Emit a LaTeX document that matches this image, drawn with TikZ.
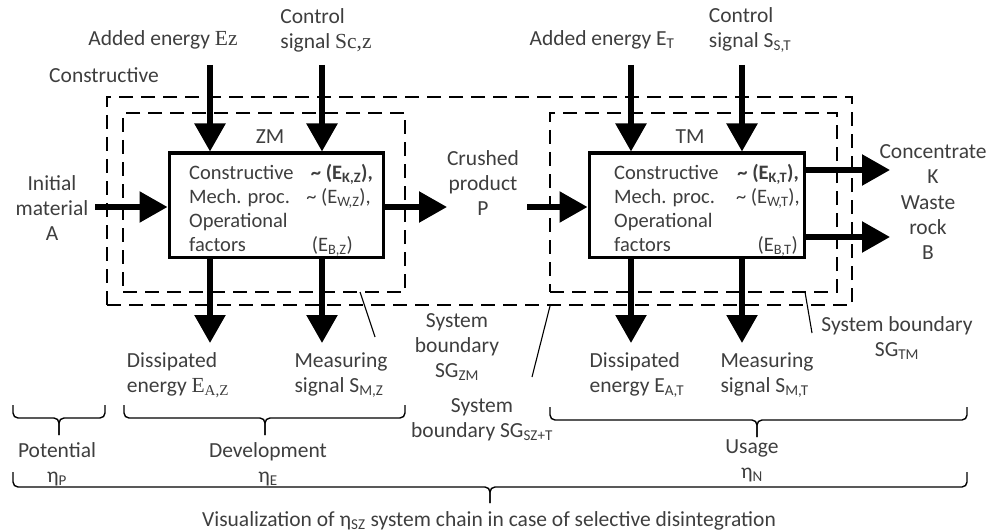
\documentclass[tikz,border=0pt]{standalone}
\usepackage{fontspec}
\setmainfont{Carlito}
\newfontfamily\serifE{Liberation Serif}
\usetikzlibrary{arrows.meta}
\definecolor{txt}{RGB}{62,62,62}
\newcommand\sbs[1]{\textsubscript{#1}}
\begin{document}
\begin{tikzpicture}[x=1pt,y=-1pt,
  lbl/.style={font=\fontsize{21.5}{25}\selectfont, text=txt, inner sep=0pt, align=center},
  boxtxt/.style={lbl, font=\fontsize{20.5}{24}\selectfont},
  bigarrow/.style={line width=5.5pt, -{Triangle[width=30pt,length=28pt]}},
  solidbox/.style={draw, line width=3pt, minimum width=214pt, minimum height=104pt, inner sep=0pt},
  dbox/.style={draw, line width=2.6pt, dash pattern=on 14pt off 8pt, inner sep=0pt},
  ptr/.style={line width=1.1pt},
  brc/.style={line width=1.4pt, rounded corners=5pt}]
\useasboundingbox (0,0) rectangle (993,532);

% system boundaries
\node[dbox, minimum width=745pt, minimum height=208pt] (sgall) at (479.5,201) {};
\node[dbox, minimum width=282pt, minimum height=179pt] (zmd) at (264,202.5) {};
\node[dbox, minimum width=287pt, minimum height=179pt] (tmd) at (693.5,202.5) {};

% machine boxes
\node[solidbox, fill=white] (zm) at (276,205) {};
\node[solidbox, fill=white, minimum width=215pt] (tm) at (696.5,205) {};

% box texts ZM
\node[boxtxt, anchor=base west] (zm1) at (189,179) {Constructive};
\node[boxtxt, anchor=base west] (zm2) at (189,203) {Mech. proc.};
\node[boxtxt, anchor=base west] (zm3) at (189,227) {Operational};
\node[boxtxt, anchor=base west] (zm4) at (189,251) {factors};
\node[boxtxt, anchor=base east] (zmr1) at (373,179) {\textbf{\textasciitilde\ (E\sbs{K,Z}),}};
\node[boxtxt, anchor=base east] (zmr2) at (371,203) {\textasciitilde\ (E\sbs{W,Z}),};
\node[boxtxt, anchor=base east] (zmr4) at (353,251) {(E\sbs{B,Z})};
% box texts TM
\node[boxtxt, anchor=base west] (tm1) at (614,179) {Constructive};
\node[boxtxt, anchor=base west] (tm2) at (614,203) {Mech. proc.};
\node[boxtxt, anchor=base west] (tm3) at (614,227) {Operational};
\node[boxtxt, anchor=base west] (tm4) at (614,251) {factors};
\node[boxtxt, anchor=base east] (tmr1) at (799,179) {\textbf{\textasciitilde\ (E\sbs{K,T}),}};
\node[boxtxt, anchor=base east] (tmr2) at (800,203) {\textasciitilde\ (E\sbs{W,T}),};
\node[boxtxt, anchor=base east] (tmr4) at (798,251) {(E\sbs{B,T})};

\node[lbl] (zml) at (270,137) {ZM};
\node[lbl] (tml) at (690,137) {TM};

% outer labels
\node[lbl] (addz) at (163,40) {Added energy {\serifE Ez}};
\node[lbl, align=left] (ctrlz) at (326,30) {Control\\signal {\serifE Sc,z}};
\node[lbl] (constr) at (104,75) {Constructive};
\node[lbl] (addt) at (602,40) {Added energy E\sbs{T}};
\node[lbl, align=left] (ctrlt) at (750,30) {Control\\signal S\sbs{S,T}};
\node[lbl] (inA) at (52,208) {Initial\\material\\A};
\node[lbl] (prP) at (483,183) {Crushed\\product\\P};
\node[lbl] (conK) at (933,164) {Concentrate\\K};
\node[lbl] (wasB) at (928,228) {Waste\\rock\\B};
\node[lbl, align=left] (dissz) at (178,375) {Dissipated\\energy {\serifE E\sbs{A,Z}}};
\node[lbl, align=left] (measz) at (341,375) {Measuring\\signal S\sbs{M,Z}};
\node[lbl] (sgzm) at (457,347) {System\\boundary\\SG\sbs{ZM}};
\node[lbl] (sgszt) at (482,420) {System\\boundary SG\sbs{SZ+T}};
\node[lbl, align=left] (disst) at (637,375) {Dissipated\\energy E\sbs{A,T}};
\node[lbl, align=left] (meast) at (767,375) {Measuring\\signal S\sbs{M,T}};
\node[lbl] (sgtm) at (897,338) {System boundary\\SG\sbs{TM}};
\node[lbl] (pot) at (57,464) {Potential\\η\sbs{P}};
\node[lbl] (dev) at (268,464) {Development\\η\sbs{E}};
\node[lbl] (use) at (752,461) {Usage\\η\sbs{N}};
\node[lbl] (vis) at (489,521) {Visualization of η\sbs{SZ} system chain in case of selective disintegration};

% input arrows
\coordinate (ez0) at (210,65);
\coordinate (sz0) at (322,65);
\coordinate (et0) at (631,65);
\coordinate (st0) at (742,65);
\draw[bigarrow] (ez0) -- (ez0 |- zm.north);
\draw[bigarrow] (sz0) -- (sz0 |- zm.north);
\draw[bigarrow] (et0) -- (et0 |- tm.north);
\draw[bigarrow] (st0) -- (st0 |- tm.north);
% output arrows
\coordinate (ez1) at (210,343);
\coordinate (sz1) at (322,343);
\coordinate (et1) at (631,343);
\coordinate (st1) at (742,343);
\draw[bigarrow] (ez1 |- zm.south) -- (ez1);
\draw[bigarrow] (sz1 |- zm.south) -- (sz1);
\draw[bigarrow] (et1 |- tm.south) -- (et1);
\draw[bigarrow] (st1 |- tm.south) -- (st1);
% material flow
\coordinate (a0) at (95,207);
\coordinate (p1) at (447,207);
\coordinate (p2) at (527,207);
\coordinate (k1) at (890,170);
\coordinate (b1) at (890,237);
\draw[bigarrow] (a0) -- (a0 -| zm.west);
\draw[bigarrow] (p1 -| zm.east) -- (p1);
\draw[bigarrow] (p2) -- (p2 -| tm.west);
\draw[bigarrow] (k1 -| tm.east) -- (k1);
\draw[bigarrow] (b1 -| tm.east) -- (b1);

% pointer lines
\coordinate (pz1) at (360,292);
\coordinate (pz2) at (375,337);
\coordinate (pa1) at (550,306);
\coordinate (pa2) at (532,377);
\coordinate (pt1) at (805,292);
\coordinate (pt2) at (812,333);
\draw[ptr] (pz1) -- (pz2);
\draw[ptr] (pa1) -- (pa2);
\draw[ptr] (pt1) -- (pt2);

% braces
\newcommand\mybrace[6]{%
  \draw[brc] (#1,#4) |- (#3,#5) -- (#3,#6);
  \draw[brc] (#2,#4) |- (#3,#5) -- (#3,#6);}
\mybrace{13}{105}{59}{405}{418}{435}
\mybrace{124}{405}{265}{405}{418}{435}
\mybrace{550}{967}{757}{407}{420}{437}
\mybrace{13}{967}{490}{472}{487}{503}
\end{tikzpicture}
\end{document}
